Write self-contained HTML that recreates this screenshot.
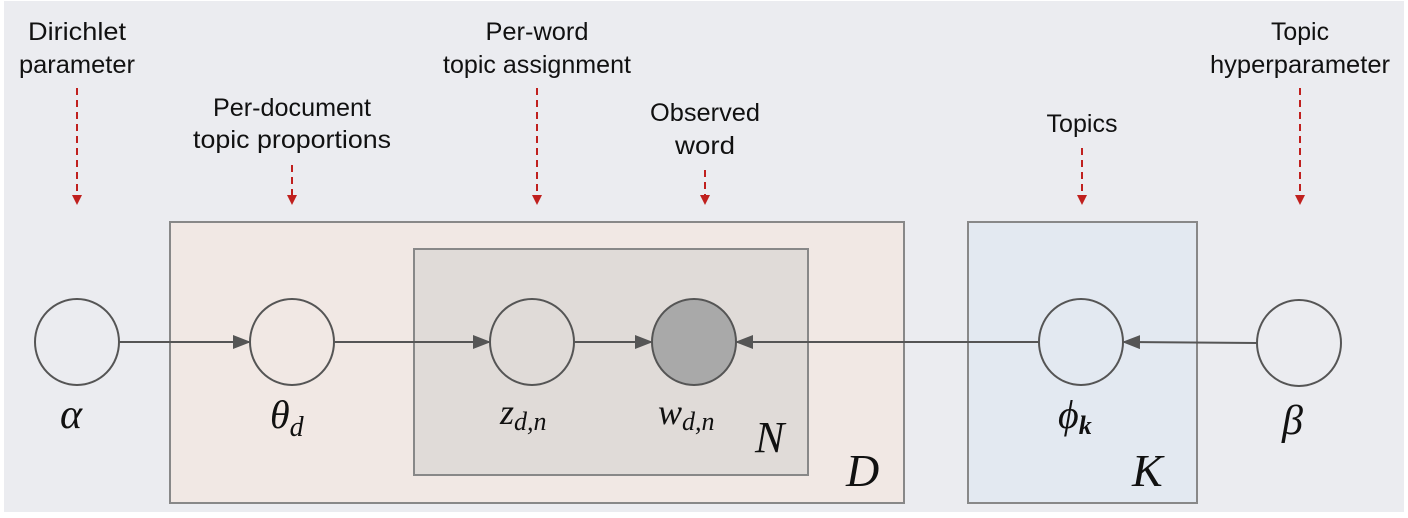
<!DOCTYPE html>
<html><head><meta charset="utf-8"><style>
html,body{margin:0;padding:0;background:#fff;}
svg{display:block;}
.t{font-family:"Liberation Sans",sans-serif;font-size:25px;fill:#111;text-anchor:middle;}
.m{font-family:"Liberation Serif",serif;font-style:italic;fill:#111;}
</style></head><body>
<svg width="1408" height="518" viewBox="0 0 1408 518">
<defs>
<marker id="ra" markerWidth="10" markerHeight="10" refX="8" refY="5" orient="auto" markerUnits="userSpaceOnUse"><path d="M0,0 L10,5 L0,10z" fill="#c0201e"/></marker>
<marker id="ga" markerWidth="18" markerHeight="14" refX="17" refY="7" orient="auto" markerUnits="userSpaceOnUse"><path d="M0,0 L18,7 L0,14z" fill="#555"/></marker>
</defs>
<rect x="4" y="1" width="1400" height="511" fill="#ebecf0"/>
<rect x="170" y="222" width="734" height="281" fill="#f1e8e4" stroke="#888" stroke-width="2"/>
<rect x="414" y="249" width="394" height="226" fill="#e0dbd8" stroke="#888" stroke-width="2"/>
<rect x="968" y="222" width="229" height="281" fill="#e3e9f1" stroke="#888" stroke-width="2"/>
<g stroke="#555" stroke-width="2" fill="none">
<line x1="119" y1="342" x2="250" y2="342" marker-end="url(#ga)"/>
<line x1="334" y1="342" x2="490" y2="342" marker-end="url(#ga)"/>
<line x1="574" y1="342" x2="652" y2="342" marker-end="url(#ga)"/>
<line x1="1039" y1="342" x2="736" y2="342" marker-end="url(#ga)"/>
<line x1="1257" y1="343" x2="1123" y2="342" marker-end="url(#ga)"/>
</g>
<g stroke="#555" stroke-width="2">
<ellipse cx="77" cy="342" rx="42" ry="43" fill="none"/>
<ellipse cx="292" cy="342" rx="42" ry="43" fill="none"/>
<ellipse cx="532" cy="342" rx="42" ry="43" fill="none"/>
<ellipse cx="694" cy="342" rx="42" ry="43" fill="#a9a9a9"/>
<ellipse cx="1081" cy="342" rx="42" ry="43" fill="none"/>
<ellipse cx="1299" cy="343" rx="42" ry="43" fill="none"/>
</g>
<g stroke="#c0201e" stroke-width="2" stroke-dasharray="7,5" marker-end="url(#ra)">
<line x1="77" y1="88" x2="77" y2="203"/>
<line x1="292" y1="165" x2="292" y2="203"/>
<line x1="537" y1="88" x2="537" y2="203"/>
<line x1="705" y1="170" x2="705" y2="203"/>
<line x1="1082" y1="148" x2="1082" y2="203"/>
<line x1="1300" y1="88" x2="1300" y2="203"/>
</g>
<g lengthAdjust="spacingAndGlyphs">
<text class="t" x="77" y="40" textLength="98" lengthAdjust="spacingAndGlyphs">Dirichlet</text>
<text class="t" x="77" y="73" textLength="116" lengthAdjust="spacingAndGlyphs">parameter</text>
<text class="t" x="292" y="116" textLength="158" lengthAdjust="spacingAndGlyphs">Per-document</text>
<text class="t" x="292" y="148" textLength="198" lengthAdjust="spacingAndGlyphs">topic proportions</text>
<text class="t" x="537" y="40" textLength="103" lengthAdjust="spacingAndGlyphs">Per-word</text>
<text class="t" x="537" y="73" textLength="188" lengthAdjust="spacingAndGlyphs">topic assignment</text>
<text class="t" x="705" y="121" textLength="110" lengthAdjust="spacingAndGlyphs">Observed</text>
<text class="t" x="705" y="154" textLength="60" lengthAdjust="spacingAndGlyphs">word</text>
<text class="t" x="1082" y="132" textLength="71" lengthAdjust="spacingAndGlyphs">Topics</text>
<text class="t" x="1300" y="40" textLength="58" lengthAdjust="spacingAndGlyphs">Topic</text>
<text class="t" x="1300" y="73" textLength="180" lengthAdjust="spacingAndGlyphs">hyperparameter</text>
</g>
<text class="m" x="60" y="428" font-size="42">α</text>
<text class="m" x="270" y="428" font-size="40">θ<tspan font-size="28" dy="8">d</tspan></text>
<text class="m" x="500" y="424" font-size="36">z<tspan font-size="26" dy="6">d,n</tspan></text>
<text class="m" x="658" y="424" font-size="36">w<tspan font-size="26" dy="6">d,n</tspan></text>
<text class="m" x="755" y="452" font-size="44">N</text>
<text class="m" x="846" y="486" font-size="46">D</text>
<text class="m" x="1058" y="428" font-size="40">ϕ<tspan font-size="26" dy="6" font-weight="bold">k</tspan></text>
<text class="m" x="1132" y="486" font-size="46">K</text>
<text class="m" x="1282" y="434" font-size="42">β</text>
</svg>
</body></html>
